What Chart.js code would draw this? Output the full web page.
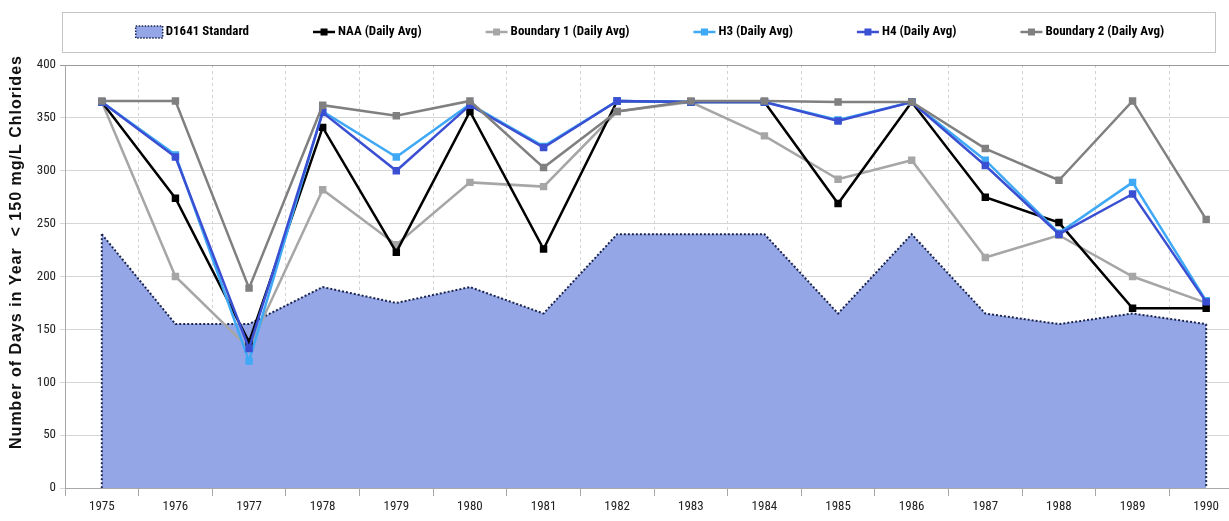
<!DOCTYPE html>
<html>
<head>
<meta charset="utf-8">
<script src="https://cdn.jsdelivr.net/npm/chart.js@4.4.0/dist/chart.umd.min.js"></script>
<style>
  html, body { margin: 0; padding: 0; background: #fff; overflow: hidden; }
  #wrap { width: 1229px; height: 521px; overflow: hidden; position: relative; }
  #chlorideChart { display: block; }
</style>
</head>
<body>
<div id="wrap">
  <canvas id="chlorideChart" width="1250" height="521"></canvas>
</div>
<script>
// years on the x axis
const years = ["1975", "1976", "1977", "1978", "1979", "1980", "1981", "1982",
  "1983", "1984", "1985", "1986", "1987", "1988", "1989", "1990"];

// days per year below 150 mg/L chlorides
const d1641Standard = [240, 155, 155, 190, 175, 190, 165, 240, 240, 240, 165, 240, 165, 155, 165, 155];
const naaDaily = [365, 274, 138, 341, 223, 356, 226, 366, 365, 365, 269, 365, 275, 251, 170, 170];
const boundary1Daily = [365, 200, 132, 282, 230, 289, 285, 356, 365, 333, 292, 310, 218, 239, 200, 175];
const h3Daily = [365, 315, 120, 356, 313, 363, 323, 366, 365, 365, 348, 365, 310, 241, 289, 177];
const h4Daily = [365, 313, 132, 355, 300, 362, 322, 366, 365, 365, 347, 365, 305, 240, 278, 176];
const boundary2Daily = [366, 366, 189, 362, 352, 366, 303, 356, 366, 366, 365, 365, 321, 291, 366, 254];

// y axis range
const yMin = 0;
const yMax = 400;
const yStep = 50;
const yTitle = "Number of Days in Year  < 150 mg/L Chlorides";

const narrowFont = '"Roboto Condensed", "Liberation Sans", Arial, sans-serif';
const areaBorder = "#1b2552";

// dotted sides of the D1641 area (Chart.js only outlines the top)
const areaEdges = {
  id: "areaEdges",
  afterDatasetDraw(chart, args) {
    if (args.index !== 0) return;
    const { ctx } = chart;
    const pts = args.meta.data;
    const y0 = chart.scales.y.getPixelForValue(0);
    ctx.save();
    ctx.strokeStyle = areaBorder;
    ctx.lineWidth = 2;
    ctx.setLineDash([2, 2]);
    [pts[0], pts[pts.length - 1]].forEach((p) => {
      ctx.beginPath();
      ctx.moveTo(p.x, p.y);
      ctx.lineTo(p.x, y0);
      ctx.stroke();
    });
    ctx.restore();
  },
};

// y title sits a bit above the middle of the axis in the original
const yTitlePlugin = {
  id: "yTitlePlugin",
  afterDraw(chart) {
    const { ctx } = chart;
    ctx.save();
    ctx.translate(17, 252);
    ctx.rotate(-Math.PI / 2);
    ctx.font = 'bold 16px "Liberation Sans", Arial, sans-serif';
    ctx.letterSpacing = "1px";
    ctx.fillStyle = "#111";
    ctx.textAlign = "center";
    ctx.textBaseline = "middle";
    ctx.fillText(yTitle, 0, 0);
    ctx.restore();
  },
};

// legend in a box on top, like the original
const boxLegend = {
  id: "boxLegend",
  afterDraw(chart) {
    const { ctx } = chart;
    ctx.save();
    ctx.strokeStyle = "#c4c4c4";
    ctx.lineWidth = 1;
    ctx.strokeRect(62.5, 12.5, 1153, 40);

    ctx.font = "bold 13px " + narrowFont;
    ctx.textBaseline = "middle";
    const items = chart.data.datasets.map((ds) => ({
      ds,
      w: (ds.fill ? 30 : 25) + ctx.measureText(ds.label).width,
    }));
    const gap = 64;
    const total = items.reduce((s, it) => s + it.w, 0) + gap * (items.length - 1);
    let x = 650 - total / 2;
    const y = 32;

    items.forEach(({ ds, w }) => {
      let tx;
      if (ds.fill) {
        ctx.fillStyle = ds.backgroundColor;
        ctx.fillRect(x, y - 6, 27, 12);
        ctx.strokeStyle = areaBorder;
        ctx.lineWidth = 1.5;
        ctx.setLineDash([1.5, 1.5]);
        ctx.strokeRect(x, y - 6, 27, 12);
        ctx.setLineDash([]);
        tx = x + 30;
      } else {
        ctx.strokeStyle = ds.borderColor;
        ctx.lineWidth = 2.5;
        ctx.beginPath();
        ctx.moveTo(x, y);
        ctx.lineTo(x + 22, y);
        ctx.stroke();
        ctx.fillStyle = ds.borderColor;
        ctx.fillRect(x + 11 - 3.5, y - 3.5, 7, 7);
        tx = x + 25;
      }
      ctx.fillStyle = "#000";
      ctx.fillText(ds.label, tx, y);
      x += w + gap;
    });
    ctx.restore();
  },
};

const lineSeries = (label, data, color, order) => ({
  label,
  data,
  borderColor: color,
  backgroundColor: color,
  borderWidth: 2.5,
  pointStyle: "rect",
  pointRadius: 3.5,
  pointBackgroundColor: color,
  pointBorderColor: color,
  fill: false,
  tension: 0,
  order,
});

const chlorideChart = new Chart(document.getElementById("chlorideChart"), {
  type: "line",
  data: {
    labels: years,
    datasets: [
      {
        label: "D1641 Standard",
        data: d1641Standard,
        fill: "origin",
        backgroundColor: "#95a6e6",
        borderColor: areaBorder,
        borderWidth: 2,
        borderDash: [2, 2],
        pointRadius: 0,
        tension: 0,
        order: 10,
      },
      lineSeries("NAA (Daily Avg)", naaDaily, "#000000", 5),
      lineSeries("Boundary 1 (Daily Avg)", boundary1Daily, "#a6a6a6", 6),
      lineSeries("H3 (Daily Avg)", h3Daily, "#3fa9f5", 4),
      lineSeries("H4 (Daily Avg)", h4Daily, "#3a4fd2", 3),
      lineSeries("Boundary 2 (Daily Avg)", boundary2Daily, "#808080", 2),
    ],
  },
  options: {
    responsive: false,
    animation: false,
    layout: { padding: { top: 65, right: 7, left: 0, bottom: 0 } },
    plugins: {
      legend: { display: false },
      tooltip: { enabled: false },
    },
    scales: {
      x: {
        offset: true,
        grid: {
          offset: true,
          color: "#d2d2d2",
          lineWidth: 1,
          tickLength: 8,
          tickColor: "#a8a8a8",
        },
        border: { color: "#a8a8a8", dash: [3, 3] },
        ticks: {
          color: "#222",
          padding: 3,
          maxRotation: 0,
          autoSkip: false,
          font: { family: narrowFont, size: 13 },
        },
        afterFit: (scale) => { scale.height = 33; },
      },
      y: {
        min: yMin,
        max: yMax,
        ticks: {
          stepSize: yStep,
          color: "#222",
          padding: 4,
          font: { family: narrowFont, size: 13 },
        },
        grid: {
          color: (c) => (c.tick && c.tick.value === yMax ? "#9a9a9a" : "#d6d6d6"),
          tickLength: 5,
        },
        border: { color: "#a8a8a8" },
        title: { display: false },
        afterFit: (scale) => { scale.width = 65; },
      },
    },
  },
  plugins: [areaEdges, yTitlePlugin, boxLegend],
});
</script>
</body>
</html>
